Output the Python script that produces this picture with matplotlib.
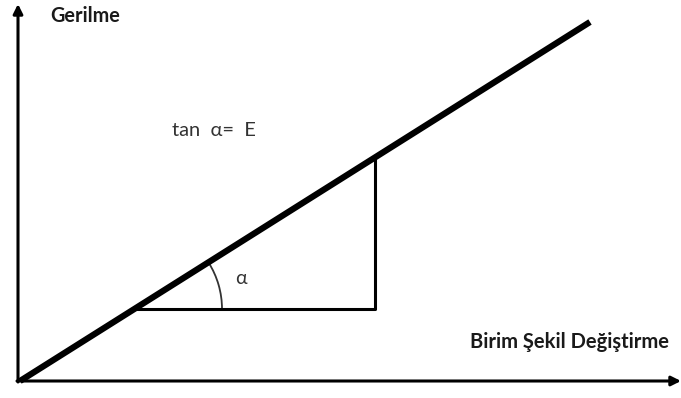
import numpy as np
import matplotlib.pyplot as plt
from matplotlib.patches import Arc

plt.rcParams['font.family'] = ['Lato', 'DejaVu Sans']

# Data (pixel-like drawing units, y grows downward)
stress_line_x = [20, 590]
stress_line_y = [381, 22]
triangle_x = [135, 375, 375]
triangle_y = [309, 309, 158]
origin = (18, 381)
y_axis_top = 4
x_axis_end = 681

y_label = "Gerilme"
x_label = "Birim Şekil Değiştirme"
formula = "tan  α=  E"
angle_label = "α"

fig = plt.figure(figsize=(6.81, 3.98), dpi=100)
ax = fig.add_axes([0, 0, 1, 1])
ax.set_xlim(0, 681)
ax.set_ylim(398, 0)
ax.axis('off')

# axes arrows
ax.annotate("", xy=(origin[0], y_axis_top), xytext=(origin[0], origin[1] + 1),
            arrowprops=dict(arrowstyle="-|>", lw=2.2, color="black",
                            mutation_scale=14, shrinkA=0, shrinkB=0))
ax.annotate("", xy=(x_axis_end, origin[1]), xytext=(origin[0] - 1, origin[1]),
            arrowprops=dict(arrowstyle="-|>", lw=2.2, color="black",
                            mutation_scale=14, shrinkA=0, shrinkB=0))

# stress-strain line
ax.plot(stress_line_x, stress_line_y, color="black", lw=4.5, solid_capstyle="butt")

# triangle
ax.plot(triangle_x, triangle_y, color="black", lw=2.2)

# angle arc
slope = (stress_line_y[1] - stress_line_y[0]) / (stress_line_x[1] - stress_line_x[0])
ang = np.degrees(np.arctan(-slope))
ax.add_patch(Arc((triangle_x[0], triangle_y[0]), 174, 174, theta1=-ang, theta2=0,
                 color="#333333", lw=1.3))

ax.text(50, 16, y_label, fontsize=14.3, fontweight="bold", color="#1a1a1a",
        ha="left", va="center")
ax.text(470, 342, x_label, fontsize=14.5, fontweight="bold", color="#1a1a1a",
        ha="left", va="center")
ax.text(172, 130, formula, fontsize=14.5, color="#333333", ha="left", va="center")
ax.text(235, 279, angle_label, fontsize=14, color="#333333", ha="left", va="center")

fig.savefig("out.png", dpi=100)
